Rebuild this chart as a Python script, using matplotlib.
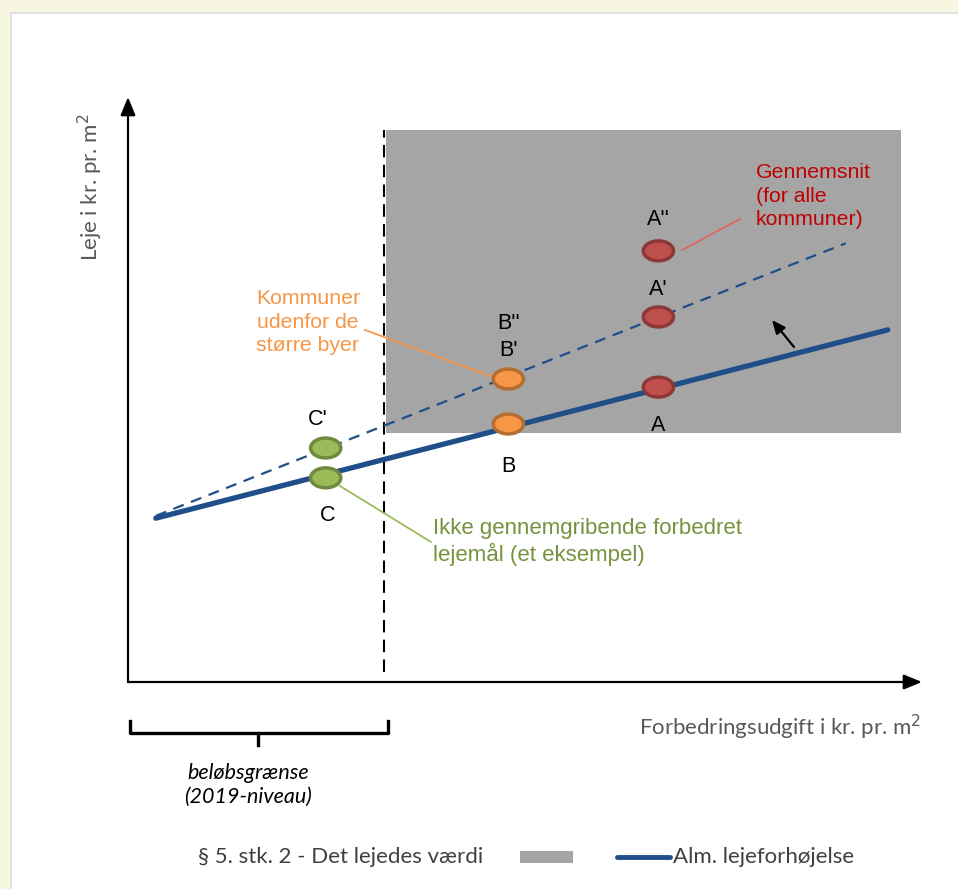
import matplotlib
matplotlib.use('Agg')
import numpy as np
import matplotlib.pyplot as plt
from matplotlib.patches import Ellipse, Rectangle

# conceptual diagram, abstract units (0..10 on both axes)
threshold_x = 3.22                       # beløbsgrænse
value_box = (3.25, 4.26, 9.74, 9.44)     # x0, y0, x1, y1 of "det lejedes værdi"
alm_x = [0.35, 9.57]
alm_y = [2.80, 6.02]
avg_x = [0.35, 9.04]
avg_y = [2.84, 7.50]

point_names = ["C", "C'", "B", "B'", "A", "A'", "A''"]
point_x = [2.49, 2.49, 4.79, 4.79, 6.68, 6.68, 6.68]
point_y = [3.49, 4.00, 4.41, 5.18, 5.04, 6.24, 7.37]
point_group = ["green", "green", "orange", "orange", "red", "red", "red"]

fill = {"green": "#9bbb59", "orange": "#f79646", "red": "#c0504d"}
edge = {"green": "#71893f", "orange": "#b66d31", "red": "#8c3836"}

W, H = 958, 889
fig = plt.figure(figsize=(W / 100, H / 100), dpi=100)
fig.patch.set_facecolor('#f7f7e1')

# white panel
bg = fig.add_axes([0, 0, 1, 1])
bg.set_xlim(0, W)
bg.set_ylim(H, 0)
bg.axis('off')
bg.add_patch(Rectangle((11, 13), W, H, facecolor='white', edgecolor='#dcdcdc', lw=1.2))

# main axes: origin at pixel (128, 682), tips at (922, 97)
ax = fig.add_axes([128 / W, (H - 682) / H, 794 / W, 585 / H])
ax.set_xlim(0, 10)
ax.set_ylim(0, 10)
ax.axis('off')

def px(x, y):
    # pixel -> data (only for decorations)
    return (x - 128) / 79.4, (682 - y) / 58.5

# axis arrows
for tip in [(10, 0), (0, 10)]:
    ax.annotate('', xy=tip, xytext=(0, 0), annotation_clip=False,
                arrowprops=dict(arrowstyle='-|>,head_length=1.1,head_width=0.45',
                                color='black', lw=1.6, shrinkA=0, shrinkB=0))

x0, y0, x1, y1 = value_box
ax.add_patch(Rectangle((x0, y0), x1 - x0, y1 - y0, facecolor='#a5a5a5', edgecolor='none', zorder=1))
ax.plot([threshold_x, threshold_x], [0.17, 9.44], color='black', lw=1.5,
        dashes=(6, 3.5), zorder=2)

ax.plot(alm_x, alm_y, color='#1f4e89', lw=3.8, solid_capstyle='round', zorder=3)
ax.plot(avg_x, avg_y, color='#1f4e89', lw=1.6, dashes=(5, 3.5), zorder=3)

for name, x, y, g in zip(point_names, point_x, point_y, point_group):
    ax.add_patch(Ellipse((x, y), 0.38, 0.34, facecolor=fill[g], edgecolor=edge[g],
                         lw=2.5, zorder=5))

# point labels
lab_off = {"C": (0.03, -0.65), "C'": (-0.10, 0.48), "B": (0.0, -0.72), "B'": (0.0, 0.48),
           "A": (0.0, -0.65), "A'": (0.0, 0.47), "A''": (0.0, 0.53)}
for name, x, y in zip(point_names, point_x, point_y):
    dx, dy = lab_off[name]
    ax.text(x + dx, y + dy, name, ha='center', va='center', fontsize=15.5,
            family='Liberation Sans', zorder=6)
ax.text(point_x[2], point_y[3] + 0.95, "B''", ha='center', va='center', fontsize=15.5,
        family='Liberation Sans', zorder=6)

# call-outs
ax.plot(*zip(px(682, 250), px(740, 219)), color='#e06666', lw=1.3, zorder=4)
ax.text(*px(756, 196), 'Gennemsnit\n(for alle\nkommuner)', color='#c00000', fontsize=15.3,
        family='Liberation Sans', ha='left', va='center', linespacing=1.3)

ax.plot(*zip(px(365, 330), px(493, 377)), color='#f79646', lw=1.3, zorder=4, clip_on=False)
ax.text(*px(308, 322), 'Kommuner\nudenfor de\nstørre byer', color='#f79646', fontsize=15.3,
        family='Liberation Sans', ha='center', va='center', linespacing=1.29)

ax.plot(*zip(px(340, 486), px(431, 542)), color='#9bbb59', lw=1.3, zorder=4)
ax.text(*px(433, 542), 'Ikke gennemgribende forbedret\nlejemål (et eksempel)', color='#76923c',
        fontsize=16, family='Liberation Sans', ha='left', va='center', linespacing=1.2)

# small shift arrow
ax.annotate('', xy=px(772, 320), xytext=px(794, 347),
            arrowprops=dict(arrowstyle='-|>,head_length=0.8,head_width=0.35',
                            color='black', lw=1.6, shrinkA=0, shrinkB=0))

# axis titles
ax.text(*px(921, 727), 'Forbedringsudgift i kr. pr. m$^2$', color='#595959', fontsize=16,
        family='Lato', ha='right', va='center', clip_on=False)
ax.text(*px(90, 187), 'Leje i kr. pr. m$^2$', color='#595959', fontsize=16,
        family='Lato', ha='center', va='center', rotation=90, clip_on=False)

# bracket under the threshold interval
bx = [130, 130, 388, 388]
by = [721, 733, 733, 721]
bg.plot(bx, by, color='black', lw=2.4, solid_joinstyle='round')
bg.plot([258, 258], [733, 745], color='black', lw=2.4)
bg.text(248, 785, 'beløbsgrænse\n(2019-niveau)', ha='center', va='center', fontsize=15.5,
        style='italic', family='Lato', linespacing=1.26)

# legend
bg.text(198, 857, '§ 5. stk. 2 - Det lejedes værdi', color='#404040', fontsize=16,
        family='Lato', ha='left', va='center')
bg.add_patch(Rectangle((520, 851), 53, 12, facecolor='#a5a5a5', edgecolor='none'))
bg.plot([617, 670], [857, 857], color='#1f4e89', lw=3.5, solid_capstyle='round')
bg.text(673, 857, 'Alm. lejeforhøjelse', color='#404040', fontsize=16,
        family='Lato', ha='left', va='center')

fig.savefig('out.png', dpi=100, facecolor=fig.get_facecolor())
